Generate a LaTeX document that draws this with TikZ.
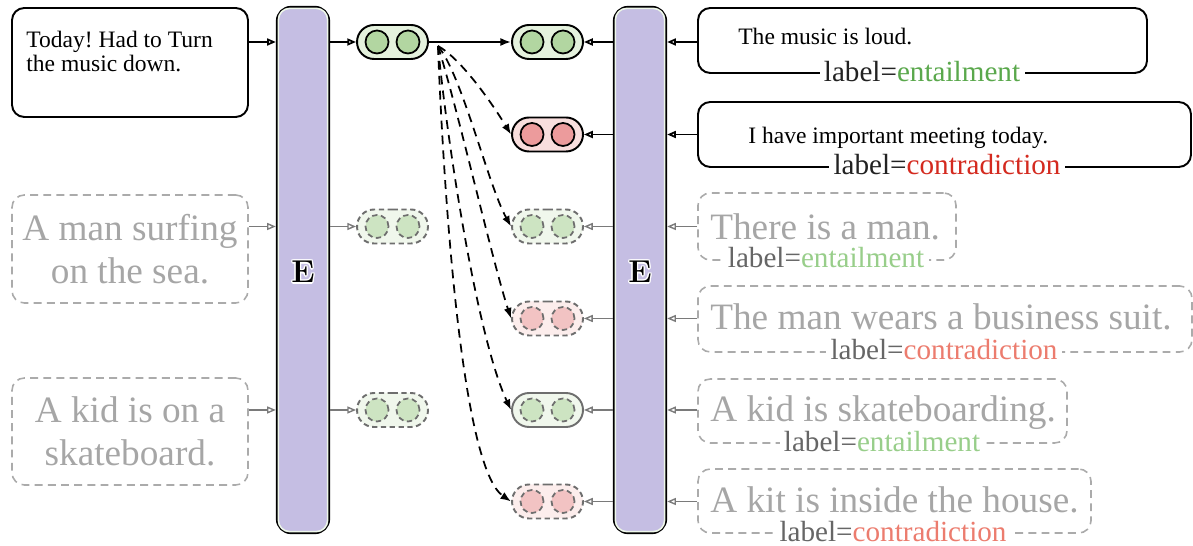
\documentclass[tikz,border=0pt]{standalone}
\usepackage{fontspec}
\newfontfamily\timesfont{Liberation Serif}
\newfontfamily\sentfont{Liberation Serif}
\usetikzlibrary{arrows.meta,shapes.misc,calc}
\frenchspacing

% one drawing unit
\newcommand\pxu{0.02cm}

\definecolor{barfill}{HTML}{C5BEE3}
\definecolor{barhi}{HTML}{EEF7EA}
\definecolor{gfill}{HTML}{E4F1DD}
\definecolor{gdot}{HTML}{B2D6A1}
\definecolor{rfill}{HTML}{F8DEDD}
\definecolor{rdot}{HTML}{EC9B9C}
\definecolor{gfillx}{HTML}{F0F7EC}
\definecolor{gdotx}{HTML}{CDE4C2}
\definecolor{rfillx}{HTML}{FCEDEC}
\definecolor{rdotx}{HTML}{F2C3C3}
\definecolor{pillgray}{HTML}{6E6E6E}
\definecolor{grayline}{HTML}{7A7A7A}
\definecolor{graytext}{HTML}{A6A6A6}
\definecolor{grayborder}{HTML}{ABABAB}
\definecolor{labgray}{HTML}{666666}
\definecolor{labdark}{HTML}{222222}
\definecolor{entail}{HTML}{5AA84C}
\definecolor{contra}{HTML}{D42A1F}
\definecolor{entailx}{HTML}{98CE8A}
\definecolor{contrax}{HTML}{EC7C6E}

% letter with a thin white outline
\newcommand\haloed[1]{\leavevmode\rlap{\color{white}%
  \rlap{\hspace*{-0.8pt}#1}\rlap{\hspace*{0.8pt}#1}%
  \rlap{\raisebox{0.8pt}{#1}}\rlap{\raisebox{-0.8pt}{#1}}%
  \rlap{\hspace*{-0.6pt}\raisebox{0.6pt}{#1}}\rlap{\hspace*{0.6pt}\raisebox{0.6pt}{#1}}%
  \rlap{\hspace*{-0.6pt}\raisebox{-0.6pt}{#1}}\rlap{\hspace*{0.6pt}\raisebox{-0.6pt}{#1}}}#1}

% a pill holding two embedding units: name, x, y, kind
\newcommand\pairat[4]{%
  \node[pill,#4 pill] (#1) at (#2,#3) {};
  \node[vecdot,#4 dot] (#1l) at ($(#1)+(-15.5,0)$) {};
  \node[vecdot,#4 dot] (#1r) at ($(#1)+(15.5,0)$) {};}

\tikzset{
  wh/.style 2 args={minimum width=#1*\pxu, minimum height=#2*\pxu},
  encoder/.style={draw=black, line width=1.3pt, fill=barfill, rounded corners=8pt, inner sep=0pt},
  encoder rim/.style={draw=barhi, line width=0.9pt, rounded corners=6.5pt},
  elabel/.style={font=\bfseries\fontsize{18pt}{18pt}\selectfont, inner sep=0pt},
  pill/.style={rounded rectangle, wh={71}{34}, line width=1.1pt, inner sep=0pt},
  vecdot/.style={circle, minimum size=23*\pxu, line width=1pt, inner sep=0pt},
  pos pill/.style={draw=black, fill=gfill},
  pos dot/.style={draw=black, fill=gdot},
  neg pill/.style={draw=black, fill=rfill},
  neg dot/.style={draw=black, fill=rdot},
  dashes/.style={dash pattern=on 3pt off 2pt},
  posx pill/.style={draw=pillgray, dashes, fill=gfillx},
  posx dot/.style={draw=pillgray, dashes, fill=gdotx},
  negx pill/.style={draw=pillgray, dashes, fill=rfillx},
  negx dot/.style={draw=pillgray, dashes, fill=rdotx},
  posh pill/.style={draw=pillgray, fill=gfillx},
  posh dot/.style={posx dot},
  box/.style={draw=black, line width=1.1pt, rounded corners=7pt, inner sep=0pt},
  gbox/.style={draw=grayborder, line width=0.9pt, dash pattern=on 4.5pt off 3pt, rounded corners=7pt, inner sep=0pt},
  feed/.style={draw=black, line width=1pt, -{Triangle[open, length=5pt, width=4pt]}},
  gfeed/.style={draw=grayline, line width=0.8pt, -{Triangle[open, length=5pt, width=4pt]}},
  link/.style={draw=black, line width=1pt, -{Latex[length=6pt, width=4.5pt]}},
  probe/.style={link, dash pattern=on 5pt off 3.5pt},
  toptext/.style={font=\timesfont\fontsize{13.4pt}{14.2pt}\selectfont, inner sep=0pt},
  sent/.style={font=\sentfont\fontsize{21.2pt}{24.4pt}\selectfont, text=graytext, inner sep=0pt},
  tag/.style={font=\sentfont\fontsize{16.6pt}{17pt}\selectfont, text=labdark, fill=white, inner xsep=2.5pt, inner ysep=0.5pt},
  gtag/.style={tag, text=labgray},
}

\begin{document}
\begin{tikzpicture}[x=\pxu, y=-\pxu]
\useasboundingbox (0,0) rectangle (1193,546);

% the two encoders
\node[encoder, wh={52}{526}] (EL) at (303,270) {};
\draw[encoder rim] ($(EL.north west)+(2.5,2.5)$) rectangle ($(EL.south east)+(-2.5,-2.5)$);
\node[elabel] (ELname) at (303,272) {\haloed{E}};
\node[encoder, wh={52}{526}] (ER) at (640,270) {};
\draw[encoder rim] ($(ER.north west)+(2.5,2.5)$) rectangle ($(ER.south east)+(-2.5,-2.5)$);
\node[elabel] (ERname) at (640,272) {\haloed{E}};

% premises
\node[box, wh={236}{109}] (S0) at (130,62.5) {};
\node[toptext, align=left, anchor=west] (S0t) at (26,51.5) {Today! Had to Turn\\the music down.};
\node[gbox, wh={236}{108}] (S1) at (130,249) {};
\node[sent, align=center] (S1t) at (130,249) {A man surfing\\on the sea.};
\node[gbox, wh={236}{107}] (S2) at (130,431.5) {};
\node[sent, align=center] (S2t) at (130,431) {A kid is on a\\skateboard.};

% embeddings
\pairat{P0}{392.5}{42}{pos}
\pairat{P1}{392.5}{226.5}{posx}
\pairat{P2}{392.5}{410}{posx}
\pairat{H0}{547.5}{42}{pos}
\pairat{H1}{547.5}{134.5}{neg}
\pairat{H2}{547.5}{226.5}{posx}
\pairat{H3}{547.5}{318.5}{negx}
\pairat{H4}{547.5}{410}{posh}
\pairat{H5}{547.5}{501.5}{negx}

% hypotheses with their labels
\node[box, wh={449}{65}] (T0) at (922.5,40.5) {};
\node[toptext, anchor=base west] (T0t) at (738,45) {The music is loud.};
\node[tag, anchor=base] (T0l) at (922,82) {label=\textcolor{entail}{entailment}};
\node[box, wh={493}{65}] (T1) at (944.5,134.5) {};
\node[toptext, anchor=base west] (T1t) at (748,144) {I have important meeting today.};
\node[tag, anchor=base] (T1l) at (947,175) {label=\textcolor{contra}{contradiction}};

\node[gbox, wh={258}{67}] (U1) at (827,226.5) {};
\node[sent, anchor=base west] (U1t) at (710,240) {There is a man.};
\node[gtag, anchor=base] (U1l) at (826,268) {label=\textcolor{entailx}{entailment}};
\node[gbox, wh={494}{66}] (U2) at (945,319) {};
\node[sent, anchor=base west] (U2t) at (710,330) {The man wears a business suit.};
\node[gtag, anchor=base] (U2l) at (944,360) {label=\textcolor{contrax}{contradiction}};
\node[gbox, wh={369}{64}] (U3) at (882.5,411) {};
\node[sent, anchor=base west] (U3t) at (710,422) {A kid is skateboarding.};
\node[gtag, anchor=base] (U3l) at (882,452) {label=\textcolor{entailx}{entailment}};
\node[gbox, wh={393}{64}] (U4) at (894.5,501) {};
\node[sent, anchor=base west] (U4t) at (710,513) {A kit is inside the house.};
\node[gtag, anchor=base] (U4l) at (893,542) {label=\textcolor{contrax}{contradiction}};

% inputs into the encoders
\draw[feed] (S0.east |- P0) -- (EL.west |- P0);
\draw[feed] (EL.east |- P0) -- (P0.west);
\draw[gfeed] (S1.east |- P1) -- (EL.west |- P1);
\draw[gfeed] (EL.east |- P1) -- (P1.west);
\draw[gfeed] (S2.east |- P2) -- (EL.west |- P2);
\draw[gfeed] (EL.east |- P2) -- (P2.west);

\draw[feed] (T0.west |- H0) -- (ER.east |- H0);
\draw[feed] (ER.west |- H0) -- (H0.east);
\draw[feed] (T1.west |- H1) -- (ER.east |- H1);
\draw[feed] (ER.west |- H1) -- (H1.east);
\draw[gfeed] (U1.west |- H2) -- (ER.east |- H2);
\draw[gfeed] (ER.west |- H2) -- (H2.east);
\draw[gfeed] (U2.west |- H3) -- (ER.east |- H3);
\draw[gfeed] (ER.west |- H3) -- (H3.east);
\draw[gfeed] (U3.west |- H4) -- (ER.east |- H4);
\draw[gfeed] (ER.west |- H4) -- (H4.east);
\draw[gfeed] (U4.west |- H5) -- (ER.east |- H5);
\draw[gfeed] (ER.west |- H5) -- (H5.east);

% premise embedding compared with every hypothesis embedding
\draw[link] (P0.east) -- (H0.west);
\coordinate (fan) at ($(P0.east)+(9,4)$);
\draw[probe] (fan) .. controls (460,58) and (490,100) .. (H1.west);
\draw[probe] (fan) .. controls (462,75) and (488,185) .. (H2.west);
\draw[probe] (fan) .. controls (458,110) and (492,260) .. (H3.west);
\draw[probe] (fan) .. controls (448,150) and (478,340) .. (H4.west);
\draw[probe] (fan) .. controls (444,200) and (462,468) .. (H5.west);
\end{tikzpicture}
\end{document}
